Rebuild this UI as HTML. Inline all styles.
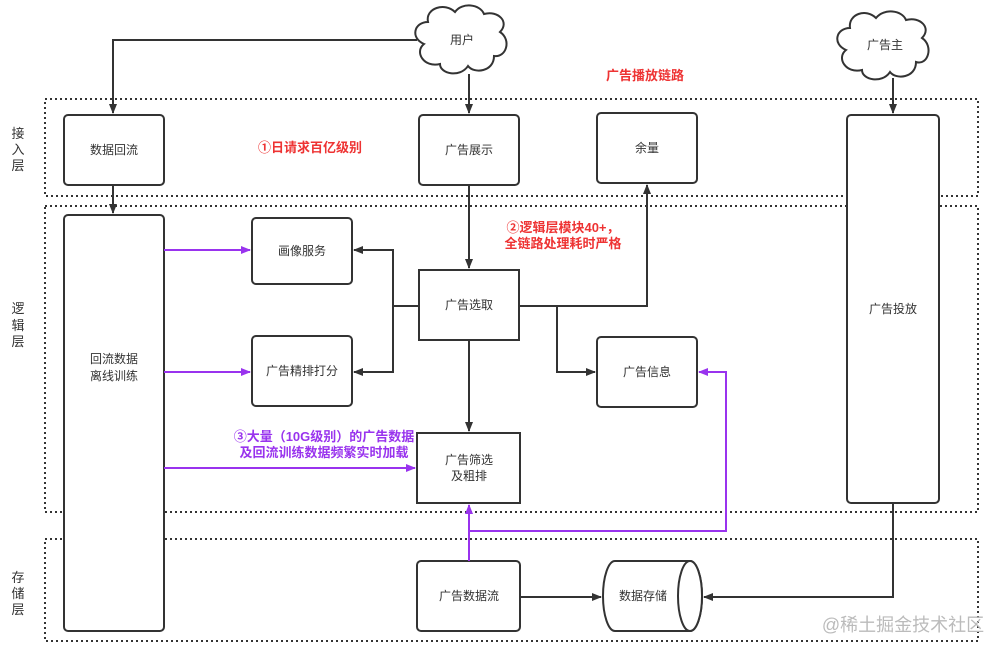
<!DOCTYPE html>
<html><head><meta charset="utf-8"><style>
body{margin:0;background:#fff}
text{font-family:"Liberation Sans","Noto Sans CJK SC",sans-serif}
</style></head><body>
<svg width="1002" height="654" viewBox="0 0 1002 654" xmlns="http://www.w3.org/2000/svg">
<defs>
<marker id="a" markerWidth="10" markerHeight="10" refX="9" refY="5" orient="auto" markerUnits="userSpaceOnUse"><path d="M0,1 L10,5 L0,9 Z" fill="#333"/></marker>
<marker id="p" markerWidth="10" markerHeight="10" refX="9" refY="5" orient="auto" markerUnits="userSpaceOnUse"><path d="M0,1 L10,5 L0,9 Z" fill="#9933ee"/></marker>
</defs>
<g fill="none" stroke="#333" stroke-width="2" stroke-dasharray="2,3">
<rect x="45" y="99" width="933" height="97"/>
<rect x="45" y="206" width="933" height="306"/>
<rect x="45" y="539" width="933" height="102"/>
</g>
<g font-size="13" fill="#333" text-anchor="middle">
<text x="18" y="138">接</text><text x="18" y="154">入</text><text x="18" y="170">层</text>
<text x="18" y="313">逻</text><text x="18" y="330">辑</text><text x="18" y="346">层</text>
<text x="18" y="582">存</text><text x="18" y="598">储</text><text x="18" y="614">层</text>
</g>
<g fill="#fff" stroke="#333" stroke-width="2">
<rect x="64" y="115" width="100" height="70" rx="4"/>
<rect x="419" y="115" width="100" height="70" rx="4"/>
<rect x="597" y="113" width="100" height="70" rx="4"/>
<rect x="847" y="115" width="92" height="388" rx="4"/>
<rect x="64" y="215" width="100" height="416" rx="4"/>
<rect x="252" y="218" width="100" height="66" rx="4"/>
<rect x="252" y="336" width="100" height="70" rx="4"/>
<rect x="419" y="270" width="100" height="70"/>
<rect x="597" y="337" width="100" height="70" rx="4"/>
<rect x="417" y="433" width="103" height="70"/>
<rect x="417" y="561" width="103" height="70" rx="4"/>
<path d="M615,561 L690,561 A12,35 0 0 1 690,631 L615,631 A12,35 0 0 1 615,561 Z"/>
<ellipse cx="690" cy="596" rx="12" ry="35"/>
</g>
<g fill="#fff" stroke="#333" stroke-width="2">
<path d="M428,22 C425,8 445,2 455,12 C462,2 480,4 484,14 C498,10 510,22 500,32 C512,40 506,58 494,56 C494,72 474,74 468,66 C460,78 440,74 440,64 C424,68 414,52 424,44 C410,38 414,22 428,22 Z"/>
<path d="M850,28 C848,14 866,8 876,18 C884,8 902,10 906,20 C920,16 932,28 922,38 C934,46 928,66 916,62 C916,78 896,80 890,72 C882,84 862,80 862,70 C846,74 836,58 846,50 C832,44 836,28 850,28 Z"/>
</g>
<g font-size="12" fill="#333" text-anchor="middle">
<text x="462" y="44">用户</text>
<text x="885" y="49">广告主</text>
<text x="114" y="154">数据回流</text>
<text x="469" y="154">广告展示</text>
<text x="647" y="152">余量</text>
<text x="893" y="313">广告投放</text>
<text x="114" y="363">回流数据</text><text x="114" y="380">离线训练</text>
<text x="302" y="255">画像服务</text>
<text x="302" y="375">广告精排打分</text>
<text x="469" y="309">广告选取</text>
<text x="647" y="376">广告信息</text>
<text x="469" y="464">广告筛选</text><text x="469" y="480">及粗排</text>
<text x="469" y="600">广告数据流</text>
<text x="643" y="600">数据存储</text>
</g>
<g fill="none" stroke="#333" stroke-width="2">
<path d="M417,40 H113 V113" marker-end="url(#a)"/>
<path d="M469,74 V113" marker-end="url(#a)"/>
<path d="M893,78 V113" marker-end="url(#a)"/>
<path d="M113,185 V213" marker-end="url(#a)"/>
<path d="M469,185 V268" marker-end="url(#a)"/>
<path d="M419,306 H393 V250 H354" marker-end="url(#a)"/>
<path d="M393,306 V372 H354" marker-end="url(#a)"/>
<path d="M519,306 H647 V185" marker-end="url(#a)"/>
<path d="M557,306 V372 H595" marker-end="url(#a)"/>
<path d="M469,340 V431" marker-end="url(#a)"/>
<path d="M520,597 H601" marker-end="url(#a)"/>
<path d="M893,503 V597 H704" marker-end="url(#a)"/>
</g>
<g fill="none" stroke="#9933ee" stroke-width="2">
<path d="M164,250 H250" marker-end="url(#p)"/>
<path d="M164,372 H250" marker-end="url(#p)"/>
<path d="M164,468 H415" marker-end="url(#p)"/>
<path d="M469,561 V505" marker-end="url(#p)"/>
<path d="M469,531 H726 V372 H699" marker-end="url(#p)"/>
</g>
<g font-size="13" font-weight="bold" fill="#ee3333" text-anchor="middle">
<text x="645" y="80">广告播放链路</text>
<text x="310" y="152">①日请求百亿级别</text>
<text x="563" y="232">②逻辑层模块40+，</text>
<text x="563" y="248">全链路处理耗时严格</text>
</g>
<g font-size="13" font-weight="bold" fill="#9933ee" text-anchor="middle">
<text x="324" y="441">③大量（10G级别）的广告数据</text>
<text x="324" y="457">及回流训练数据频繁实时加载</text>
</g>
<text x="903" y="631" font-size="18" fill="#bbb" text-anchor="middle">@稀土掘金技术社区</text>
</svg>
</body></html>
